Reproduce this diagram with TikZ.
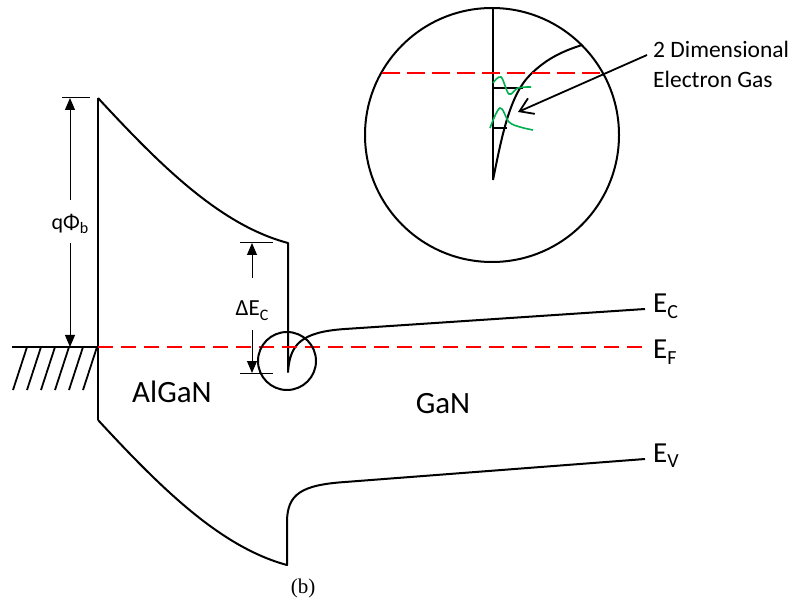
\documentclass[tikz,border=0pt]{standalone}
\usepackage{fontspec}
\setmainfont{Carlito}
\newfontfamily\capfont{Liberation Serif}
\usetikzlibrary{arrows.meta}
\definecolor{wavegreen}{RGB}{0,176,80}
\begin{document}
\begin{tikzpicture}[x=1pt,y=-1pt,
  band/.style={line width=2pt,line join=round},
  fermi/.style={red,line width=2pt,dash pattern=on 15pt off 8pt},
  dimline/.style={line width=1pt},
  dimtip/.style={line width=1pt,-{Triangle[width=10pt,length=12pt]}},
  wave/.style={wavegreen,line width=1.6pt},
  lab/.style={inner sep=0pt}]
\useasboundingbox (0,0) rectangle (792,601);

% ground with hatching
\draw[band] (12,347) -- (98,347);
\foreach \x in {13,27,41,55,69,83} \draw[line width=1.8pt] (\x,390) -- (\x+14,347);

% AlGaN surface
\draw[band] (98,98) -- (98,420);

% conduction band
\draw[band] (98,98) .. controls (160,165) and (220,225) .. (288,243)
  -- (288,372) .. controls (290,345) and (300,332) .. (345,329) -- (645,309);
% valence band
\draw[band] (98,420) .. controls (160,487) and (220,547) .. (287,565)
  -- (287,520) .. controls (288,495) and (300,485) .. (345,482) -- (645,459);

% Fermi level
\draw[fermi] (98,347) -- (645,347);

% small circle
\draw[band] (287,361) circle[radius=29];

% q phi_b dimension
\coordinate (qtop) at (70,98);
\coordinate (qbot) at (70,347);
\draw[dimline] (62,98) -- (90,98);
\node[lab,font=\fontsize{22}{24}\selectfont] (qphi) at (70,224) {qΦ\raisebox{-0.22em}{\fontsize{16}{18}\selectfont b}};
\coordinate (qa) at (70,200);
\coordinate (qb) at (70,243);
\draw[dimtip] (qa) -- (qtop);
\draw[dimtip] (qb) -- (qbot);

% Delta E_C dimension
\coordinate (dtop) at (252,243);
\coordinate (dbot) at (252,373);
\draw[dimline] (240,243) -- (273,243);
\draw[dimline] (240,373) -- (273,373);
\node[lab,font=\fontsize{23}{25}\selectfont] (dec) at (252,311) {ΔE\raisebox{-0.22em}{\fontsize{16}{18}\selectfont C}};
\coordinate (da) at (252,278);
\coordinate (db) at (252,330);
\draw[dimtip] (da) -- (dtop);
\draw[dimtip] (db) -- (dbot);

% band labels
\node[lab,anchor=base west,font=\fontsize{29}{32}\selectfont] (ec) at (653,313) {E\raisebox{-0.2em}{\fontsize{20}{22}\selectfont C}};
\node[lab,anchor=base west,font=\fontsize{29}{32}\selectfont] (ef) at (653,359) {E\raisebox{-0.2em}{\fontsize{20}{22}\selectfont F}};
\node[lab,anchor=base west,font=\fontsize{29}{32}\selectfont] (ev) at (653,462) {E\raisebox{-0.2em}{\fontsize{20}{22}\selectfont V}};

% material labels
\node[lab,anchor=base west,font=\fontsize{31}{34}\selectfont] (algan) at (132,402) {AlGaN};
\node[lab,anchor=base,font=\fontsize{31}{34}\selectfont] (gan) at (443,413) {GaN};

% magnified view
\draw[band] (492,135) circle[radius=127];
\draw[band] (493,8) -- (493,180);
\draw[band] (493,180) .. controls (502,135) and (510,95) .. (530,75)
  .. controls (545,60) and (560,52) .. (582,45);
\draw[red,line width=2pt,dash pattern=on 18pt off 7pt] (382,73) -- (603,73);
\draw[line width=1.2pt] (493,88) -- (523,88);
\draw[line width=1.2pt] (493,128) -- (507,128);
\draw[wave] plot[smooth,tension=0.6] coordinates {(493,83) (501,77) (509,94) (518,88) (531,87)};
\draw[wave] plot[smooth,tension=0.6] coordinates {(490,128) (500,108) (509,122) (520,127) (533,130)};

% 2DEG label and arrow
\node[lab,anchor=base west,align=left,font=\fontsize{23.5}{30}\selectfont] (deg) at (653,88) {2 Dimensional\\Electron Gas};
\coordinate (degtail) at (647,55);
\coordinate (degtip) at (518,112);
\draw[line width=1.8pt,-{Straight Barb[length=13pt,width=17pt]}] (degtail) -- (degtip);

% caption
\node[lab,anchor=base,font=\capfont\fontsize{21}{23}\selectfont] (cap) at (303,593) {(b)};
\end{tikzpicture}
\end{document}
